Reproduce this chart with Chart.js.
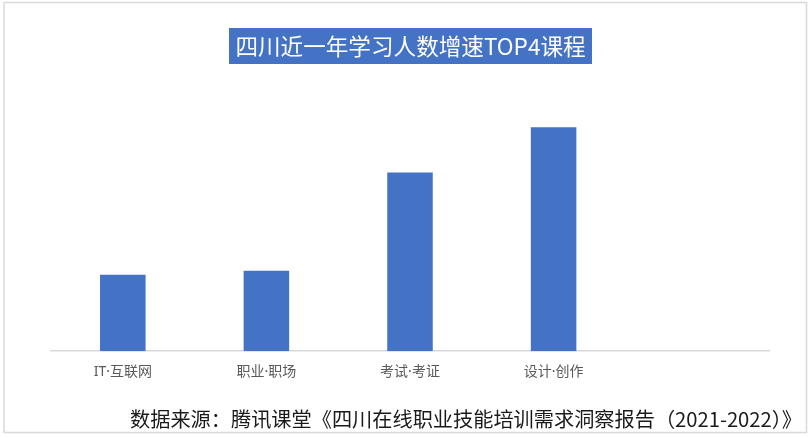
<!DOCTYPE html>
<html>
<head>
<meta charset="utf-8">
<script src="https://cdn.jsdelivr.net/npm/chart.js@4"></script>
<style>
  html, body { margin: 0; padding: 0; background: #fff; }
  #wrap { width: 809px; height: 438px; position: relative; }
</style>
</head>
<body>
<div id="wrap"><canvas id="growthChart" width="809" height="438"></canvas></div>
<script>
// course categories (last slot is empty in the original)
const courses = ['IT·互联网', '职业·职场', '考试·考证', '设计·创作', ''];
// bar heights (no axis shown, relative units)
const growth = [76, 80, 178, 223, null];
const chartTitle = '四川近一年学习人数增速TOP4课程';
const sourceNote = '数据来源：腾讯课堂《四川在线职业技能培训需求洞察报告（2021-2022）》';

// frame, title box and source line
const decorations = {
  id: 'decorations',
  beforeDraw(chart) {
    const ctx = chart.ctx;
    ctx.save();
    ctx.fillStyle = '#ffffff';
    ctx.fillRect(0, 0, chart.width, chart.height);
    ctx.strokeStyle = '#d9d9d9';
    ctx.lineWidth = 1.5;
    ctx.strokeRect(4, 2.5, 802.5, 430);
    ctx.restore();
  },
  afterDraw(chart) {
    const ctx = chart.ctx;
    ctx.save();
    // title box
    ctx.fillStyle = '#4472c4';
    ctx.fillRect(229, 28, 363, 36);
    ctx.fillStyle = '#ffffff';
    ctx.font = '22.6px "Noto Sans CJK SC", sans-serif';
    ctx.textAlign = 'center';
    ctx.textBaseline = 'middle';
    ctx.fillText(chartTitle, 410.5, 46.5);
    // source
    ctx.fillStyle = '#1a1a1a';
    ctx.font = '20.2px "Noto Sans CJK SC", sans-serif';
    ctx.textAlign = 'right';
    ctx.textBaseline = 'alphabetic';
    ctx.fillText(sourceNote, 802, 427);
    ctx.restore();
  }
};

new Chart(document.getElementById('growthChart'), {
  type: 'bar',
  data: {
    labels: courses,
    datasets: [{
      data: growth,
      backgroundColor: '#4472c4',
      borderWidth: 0,
      categoryPercentage: 1,
      barPercentage: 0.317
    }]
  },
  options: {
    responsive: false,
    animation: false,
    events: [],
    layout: {
      padding: { top: 90, left: 51, right: 40, bottom: 46 }
    },
    plugins: {
      legend: { display: false },
      tooltip: { enabled: false }
    },
    scales: {
      x: {
        grid: { display: false, drawTicks: false },
        border: { display: true, color: '#d9d9d9', width: 1.5 },
        ticks: {
          color: '#595959',
          padding: 12,
          maxRotation: 0,
          font: { family: '"Noto Sans", "Noto Sans CJK SC", sans-serif', size: 14 }
        }
      },
      y: {
        display: false,
        min: 0,
        max: 260
      }
    }
  },
  plugins: [decorations]
});
</script>
</body>
</html>
